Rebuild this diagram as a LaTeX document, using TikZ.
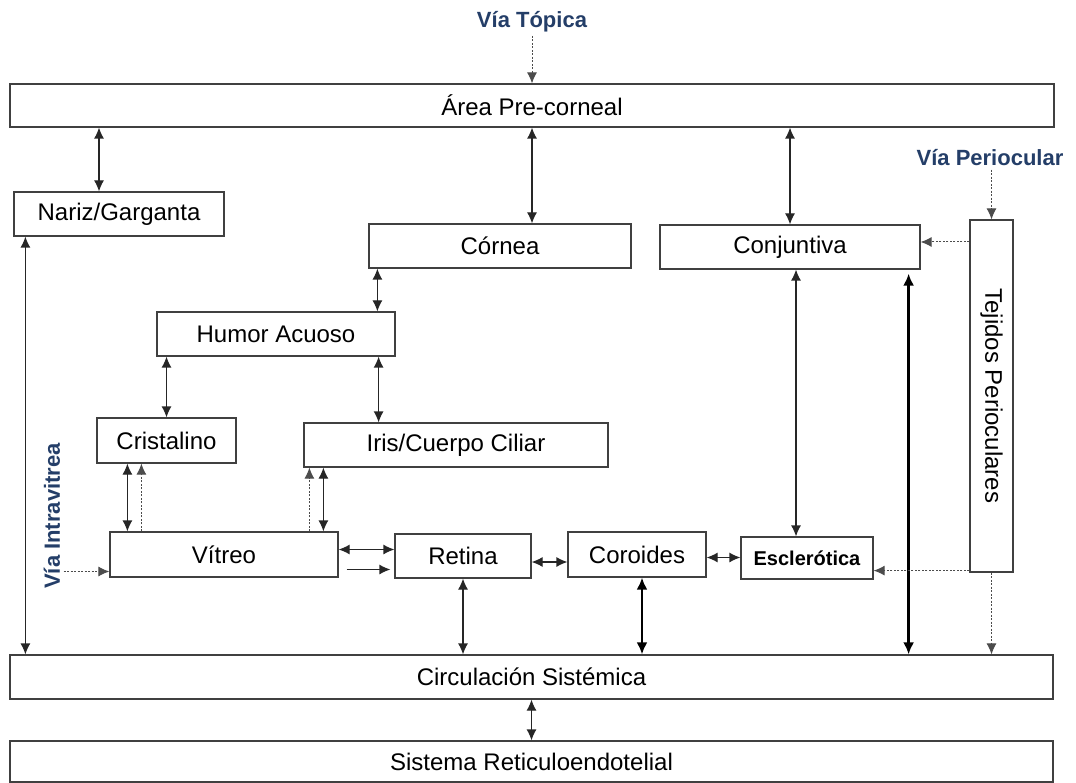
\documentclass[tikz,border=0pt]{standalone}
\usepackage{fontspec}
\setmainfont{Liberation Sans}
\usepackage{graphicx}
\usetikzlibrary{arrows.meta}
\definecolor{viablue}{RGB}{36,62,104}
\begin{document}
\begin{tikzpicture}[x=1pt, y=-1pt,
	box/.style={draw=black!75, line width=1.2pt, fill=white, inner sep=0pt, font=\fontsize{24}{28}\selectfont},
	via/.style={text=viablue, font=\fontsize{22}{26}\selectfont\bfseries},
	dbl/.style={{Latex[length=11pt,width=10pt]}-{Latex[length=11pt,width=10pt]}, line width=1.2pt, black!85},
	one/.style={-{Latex[length=11pt,width=10pt]}, line width=1.2pt, black!85},
	heavy/.style={{Latex[length=12pt,width=11pt]}-{Latex[length=12pt,width=11pt]}, line width=2.6pt, black},
	dsh/.style={-{Latex[length=11pt,width=10pt]}, line width=1pt, black!70, dash pattern=on 2pt off 1.5pt}]
	\useasboundingbox (0,0) rectangle (1076,783);
	\node[via] (topica) at (532,22) {Vía Tópica};
	\node[via] (peri) at (990,158) {Vía Periocular};
	\node[via, rotate=90] (intra) at (52,516) {Vía Intravitrea};
	\node[box, minimum width=1044pt, minimum height=43pt] (pre) at (532,105.5) {Área Pre-corneal};
	\node[box, minimum width=210pt, minimum height=44pt] (nariz) at (119,214) {Nariz/Garganta};
	\node[box, minimum width=262pt, minimum height=44pt] (cornea) at (500,246) {Córnea};
	\node[box, minimum width=260pt, minimum height=44pt] (conj) at (790,247) {Conjuntiva};
	\node[box, minimum width=43pt, minimum height=352pt] (teji) at (991.5,396) {\rotatebox{-90}{Tejidos Perioculares}};
	\node[box, minimum width=238pt, minimum height=44pt] (humor) at (276,334) {Humor Acuoso};
	\node[box, minimum width=139pt, minimum height=45pt] (crist) at (166.5,440.5) {Cristalino};
	\node[box, minimum width=304pt, minimum height=44pt] (iris) at (456,445) {Iris/Cuerpo Ciliar};
	\node[box, minimum width=228pt, minimum height=45pt] (vitreo) at (224,554.5) {Vítreo};
	\node[box, minimum width=136pt, minimum height=44pt] (retina) at (463,556) {Retina};
	\node[box, minimum width=138pt, minimum height=45pt] (coroides) at (637,554.5) {Coroides};
	\node[box, minimum width=132pt, minimum height=42pt, font=\fontsize{20}{24}\selectfont\bfseries] (escl) at (807,558) {Esclerótica};
	\node[box, minimum width=1043pt, minimum height=44pt] (circ) at (531.5,677) {Circulación Sistémica};
	\node[box, minimum width=1043pt, minimum height=41pt] (ret) at (531.5,761.5) {Sistema Reticuloendotelial};
	\draw[dsh] (topica.south) -- (topica.south |- pre.north);
	\draw[dsh] (peri.south -| teji.north) -- (teji.north);
	\draw[dbl] ([xshift=-20pt]nariz.north) -- ([xshift=-20pt]nariz.north |- pre.south);
	\draw[dbl] ([xshift=32pt]cornea.north) -- ([xshift=32pt]cornea.north |- pre.south);
	\draw[dbl] (conj.north) -- (conj.north |- pre.south);
	\draw[dsh] ([yshift=5pt]conj.east -| teji.west) -- ([yshift=5pt]conj.east);
	\draw[dbl] ([xshift=9pt]cornea.south west) -- ([xshift=9pt]cornea.south west |- humor.north);
	\draw[dbl] (crist.north) -- (crist.north |- humor.south);
	\draw[dbl] ([xshift=-17pt]humor.south east) -- ([xshift=-17pt]humor.south east |- iris.north);
	\draw[dbl] ([xshift=31pt]crist.south west) -- ([xshift=31pt]crist.south west |- vitreo.north);
	\draw[dsh] ([xshift=45pt]crist.south west |- vitreo.north) -- ([xshift=45pt]crist.south west);
	\draw[dsh] ([xshift=6pt]iris.south west |- vitreo.north) -- ([xshift=6pt]iris.south west);
	\draw[dbl] ([xshift=20pt]iris.south west) -- ([xshift=20pt]iris.south west |- vitreo.north);
	\draw[dsh] ([yshift=-17pt]vitreo.west -| intra.south) -- ([yshift=-17pt]vitreo.west);
	\draw[dbl] ([yshift=5pt]vitreo.east) -- ([yshift=5pt]vitreo.east -| retina.west);
	\draw[one, shorten >=4pt] ([xshift=8pt,yshift=-15pt]vitreo.east) -- ([yshift=-15pt]vitreo.east -| retina.west);
	\draw[dbl] ([yshift=-6pt]retina.east) -- ([yshift=-6pt]retina.east -| coroides.west);
	\draw[dbl] ([yshift=-3pt]coroides.east) -- ([yshift=-3pt]coroides.east -| escl.west);
	\draw[dbl] ([xshift=-11pt]escl.north) -- ([xshift=-11pt]escl.north |- conj.south);
	\draw[heavy, shorten <=4pt] ([xshift=-12pt]conj.south east) -- ([xshift=-12pt]conj.south east |- circ.north);
	\draw[dsh] ([yshift=2pt]teji.south west) -- ([yshift=2pt]teji.south west -| escl.east);
	\draw[dsh] (teji.south) -- (teji.south |- circ.north);
	\draw[dbl] ([xshift=12pt]nariz.south west) -- ([xshift=12pt]nariz.south west |- circ.north);
	\draw[dbl] (retina.south) -- (retina.south |- circ.north);
	\draw[heavy] ([xshift=5pt]coroides.south) -- ([xshift=5pt]coroides.south |- circ.north);
	\draw[dbl] (circ.south) -- (circ.south |- ret.north);
\end{tikzpicture}
\end{document}
